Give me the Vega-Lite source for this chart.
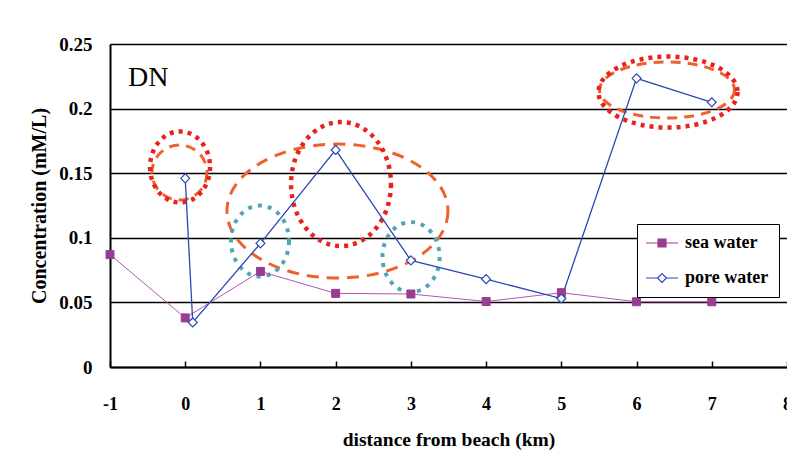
{
  "$schema": "https://vega.github.io/schema/vega-lite/v6.json",
  "width": 677,
  "height": 323,
  "autosize": {"type": "none"},
  "padding": {"left": 110, "top": 44, "right": 0, "bottom": 101},
  "background": "white",
  "datasets": {
    "series": [
      {"series": "sea water", "x": -1, "y": 0.087},
      {"series": "sea water", "x": 0, "y": 0.038},
      {"series": "sea water", "x": 1, "y": 0.074},
      {"series": "sea water", "x": 2, "y": 0.057},
      {"series": "sea water", "x": 3, "y": 0.0565},
      {"series": "sea water", "x": 4, "y": 0.0507},
      {"series": "sea water", "x": 5, "y": 0.0575},
      {"series": "sea water", "x": 6, "y": 0.0505},
      {"series": "sea water", "x": 7, "y": 0.0505},
      {"series": "pore water", "x": 0, "y": 0.146},
      {"series": "pore water", "x": 0.1, "y": 0.0345},
      {"series": "pore water", "x": 1, "y": 0.0957},
      {"series": "pore water", "x": 2, "y": 0.168},
      {"series": "pore water", "x": 3, "y": 0.0825},
      {"series": "pore water", "x": 4, "y": 0.068},
      {"series": "pore water", "x": 5, "y": 0.053},
      {"series": "pore water", "x": 6, "y": 0.2234},
      {"series": "pore water", "x": 7, "y": 0.2049}
    ],
    "marks": [
      {"id": "red0", "x": -0.069, "y": 0.1548},
      {"id": "orange0", "x": -0.076, "y": 0.1505},
      {"id": "orangeBig", "x": 2.024, "y": 0.1207},
      {"id": "red2", "x": 2.071, "y": 0.1416},
      {"id": "teal1", "x": 0.994, "y": 0.0975},
      {"id": "teal3", "x": 3.002, "y": 0.0851},
      {"id": "red67", "x": 6.418, "y": 0.2128},
      {"id": "orange67", "x": 6.405, "y": 0.2144}
    ],
    "label": [{"label": "DN", "x": -0.76, "y": 0.224}]
  },
  "encoding": {
    "x": {
      "field": "x", "type": "quantitative",
      "scale": {"domain": [-1, 8], "nice": false, "zero": false},
      "axis": {
        "title": "distance from beach (km)",
        "values": [-1, 0, 1, 2, 3, 4, 5, 6, 7, 8],
        "labelExpr": "datum.value < 0 ? '-' + abs(datum.value) : datum.label",
        "grid": false,
        "domainColor": "black", "domainWidth": 2,
        "ticks": true, "tickColor": "black", "tickWidth": 1.5, "tickSize": -6,
        "labelPadding": 34,
        "labelFont": "Liberation Serif", "labelFontWeight": "bold", "labelFontSize": 18, "labelColor": "black",
        "labelFlush": false, "labelOverlap": false,
        "titleFont": "Liberation Serif", "titleFontWeight": "bold", "titleFontSize": 19.5, "titleColor": "black",
        "titlePadding": 17
      }
    },
    "y": {
      "field": "y", "type": "quantitative",
      "scale": {"domain": [0, 0.25], "nice": false},
      "axis": {
        "title": "Concentration (mM/L)",
        "values": [0, 0.05, 0.1, 0.15, 0.2, 0.25],
        "format": "~g",
        "grid": true, "gridColor": "black", "gridWidth": 1.5, "gridOpacity": 1,
        "domainColor": "black", "domainWidth": 2,
        "ticks": false,
        "labelPadding": 18,
        "labelFont": "Liberation Serif", "labelFontWeight": "bold", "labelFontSize": 19, "labelColor": "black",
        "labelFlush": false,
        "titleFont": "Liberation Serif", "titleFontWeight": "bold", "titleFontSize": 20, "titleColor": "black",
        "titlePadding": 9
      }
    }
  },
  "layer": [
    {
      "data": {"name": "marks"},
      "transform": [{"filter": "datum.id === 'orangeBig'"}],
      "mark": {"type": "point", "filled": false, "opacity": 1, "clip": false,
        "shape": "M1,0C1,0.335 0.552,0.606 0,0.606C-0.552,0.606 -1,0.335 -1,0C-1,-0.335 -0.552,-0.606 0,-0.606C0.552,-0.606 1,-0.335 1,0Z",
        "size": 48841, "stroke": "#f0602a", "strokeWidth": 3, "strokeDash": [12, 8]}
    },
    {
      "data": {"name": "marks"},
      "transform": [{"filter": "datum.id === 'orange0'"}],
      "mark": {"type": "point", "filled": false, "opacity": 1, "clip": false,
        "shape": "M1,0C1,0.552 0.552,1 0,1C-0.552,1 -1,0.552 -1,0C-1,-0.552 -0.552,-1 0,-1C0.552,-1 1,-0.552 1,0Z",
        "size": 3025, "stroke": "#f0602a", "strokeWidth": 3, "strokeDash": [10, 7]}
    },
    {
      "data": {"name": "marks"},
      "transform": [{"filter": "datum.id === 'orange67'"}],
      "mark": {"type": "point", "filled": false, "opacity": 1, "clip": false,
        "shape": "M1,0C1,0.229 0.552,0.415 0,0.415C-0.552,0.415 -1,0.229 -1,0C-1,-0.229 -0.552,-0.415 0,-0.415C0.552,-0.415 1,-0.229 1,0Z",
        "size": 18225, "stroke": "#f0602a", "strokeWidth": 3, "strokeDash": [10, 7]}
    },
    {
      "data": {"name": "marks"},
      "transform": [{"filter": "datum.id === 'red0'"}],
      "mark": {"type": "point", "filled": false, "opacity": 1, "clip": false,
        "shape": "M0.845,0C0.845,0.552 0.467,1 0,1C-0.467,1 -0.845,0.552 -0.845,0C-0.845,-0.552 -0.467,-1 0,-1C0.467,-1 0.845,-0.552 0.845,0Z",
        "size": 5041, "stroke": "#e8231e", "strokeWidth": 4.5, "strokeDash": [4, 5]}
    },
    {
      "data": {"name": "marks"},
      "transform": [{"filter": "datum.id === 'red2'"}],
      "mark": {"type": "point", "filled": false, "opacity": 1, "clip": false,
        "shape": "M0.806,0C0.806,0.552 0.445,1 0,1C-0.445,1 -0.806,0.552 -0.806,0C-0.806,-0.552 -0.445,-1 0,-1C0.445,-1 0.806,-0.552 0.806,0Z",
        "size": 15376, "stroke": "#e8231e", "strokeWidth": 4.5, "strokeDash": [4, 5]}
    },
    {
      "data": {"name": "marks"},
      "transform": [{"filter": "datum.id === 'red67'"}],
      "mark": {"type": "point", "filled": false, "opacity": 1, "clip": false,
        "shape": "M1,0C1,0.282 0.552,0.511 0,0.511C-0.552,0.511 -1,0.282 -1,0C-1,-0.282 -0.552,-0.511 0,-0.511C0.552,-0.511 1,-0.282 1,0Z",
        "size": 19321, "stroke": "#e8231e", "strokeWidth": 4.5, "strokeDash": [4, 5]}
    },
    {
      "data": {"name": "marks"},
      "transform": [{"filter": "datum.id === 'teal1'"}],
      "mark": {"type": "point", "filled": false, "opacity": 1, "clip": false,
        "shape": "M0.817,0C0.817,0.552 0.451,1 0,1C-0.451,1 -0.817,0.552 -0.817,0C-0.817,-0.552 -0.451,-1 0,-1C0.451,-1 0.817,-0.552 0.817,0Z",
        "size": 5041, "stroke": "#4fa6b6", "strokeWidth": 4, "strokeDash": [4, 6]}
    },
    {
      "data": {"name": "marks"},
      "transform": [{"filter": "datum.id === 'teal3'"}],
      "mark": {"type": "point", "filled": false, "opacity": 1, "clip": false,
        "shape": "M0.817,0C0.817,0.552 0.451,1 0,1C-0.451,1 -0.817,0.552 -0.817,0C-0.817,-0.552 -0.451,-1 0,-1C0.451,-1 0.817,-0.552 0.817,0Z",
        "size": 4900, "stroke": "#4fa6b6", "strokeWidth": 4, "strokeDash": [4, 6]}
    },
    {
      "data": {"name": "series"},
      "transform": [{"filter": "datum.series === 'sea water'"}],
      "mark": {"type": "line", "stroke": "#b455b4", "strokeWidth": 1}
    },
    {
      "data": {"name": "series"},
      "transform": [{"filter": "datum.series === 'pore water'"}],
      "mark": {"type": "line", "stroke": "#2a48b4", "strokeWidth": 1.3}
    },
    {
      "data": {"name": "series"},
      "transform": [{"filter": "datum.series === 'sea water'"}],
      "mark": {"type": "point", "shape": "square", "filled": true, "opacity": 1, "fill": "#993d90", "stroke": "#993d90", "strokeWidth": 1, "size": 64}
    },
    {
      "data": {"name": "series"},
      "transform": [{"filter": "datum.series === 'pore water'"}],
      "mark": {"type": "point", "shape": "diamond", "filled": true, "opacity": 1, "fill": "white", "stroke": "#2a48b4", "strokeWidth": 1.2, "size": 80}
    },
    {
      "data": {"name": "series"},
      "transform": [{"filter": "false"}],
      "mark": {"type": "point", "opacity": 1, "strokeWidth": 1.2},
      "encoding": {
        "shape": {
          "field": "series", "type": "nominal",
          "scale": {"domain": ["sea water", "pore water"], "range": [
            "M-1.25,0H0.25M1.25,0H2.75M0.25,-0.5H1.25V0.5H0.25Z",
            "M-1.25,0H0.2M1.3,0H2.75M0.75,-0.55L1.3,0L0.75,0.55L0.2,0Z"
          ]},
          "legend": {"title": null}
        },
        "fill": {
          "field": "series", "type": "nominal",
          "scale": {"domain": ["sea water", "pore water"], "range": ["#993d90", "white"]},
          "legend": {"title": null}
        },
        "stroke": {
          "field": "series", "type": "nominal",
          "scale": {"domain": ["sea water", "pore water"], "range": ["#993d90", "#2a48b4"]},
          "legend": {"title": null}
        }
      }
    },
    {
      "data": {"name": "label"},
      "mark": {"type": "text", "align": "left", "baseline": "middle", "font": "Liberation Serif", "fontSize": 28, "color": "black"},
      "encoding": {"text": {"field": "label"}}
    }
  ],
  "config": {
    "view": {"stroke": null},
    "legend": {
      "orient": "none",
      "legendX": 527,
      "legendY": 180,
      "fillColor": "white",
      "strokeColor": "black",
      "padding": 10,
      "symbolSize": 256,
      "symbolStrokeWidth": 1.2,
      "rowPadding": 17,
      "labelOffset": 20,
      "labelFont": "Liberation Serif",
      "labelFontWeight": "bold",
      "labelFontSize": 18,
      "labelColor": "black",
      "labelLimit": 200
    }
  }
}
